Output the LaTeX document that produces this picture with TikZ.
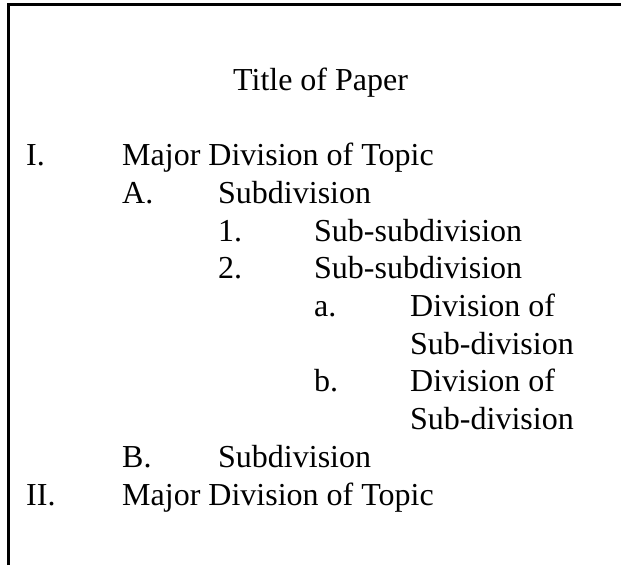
\documentclass[tikz,border=0pt]{standalone}
\usepackage{fontspec}
\setmainfont{Liberation Serif}
\usetikzlibrary{positioning}
\begin{document}
\begin{tikzpicture}
[x=1pt,y=-1pt,
 entry/.style={anchor=base west,inner sep=0pt,font=\fontsize{32}{32}\selectfont},
 frame/.style={line width=3pt}]
\useasboundingbox (0,0) rectangle (621,565);
% page edge
\coordinate (bl) at (8.5,565);
\coordinate (tl) at (8.5,4.5);
\coordinate (tr) at (621,4.5);
\draw[frame] (bl) -- (tl) -- (tr);
\node[entry] (title) at (233,90) {Title of Paper};
% level one
\node[entry] (numI) at (26,165) {I.};
\node[entry] (topicI) at (122,165) {Major Division of Topic};
% level two
\node[entry] (numA) at (122,203) {A.};
\node[entry] (subA) at (218,203) {Subdivision};
% level three
\node[entry] (num1) at (218,241) {1.};
\node[entry] (sub1) at (314,241) {Sub-subdivision};
\node[entry] (num2) at (218,278) {2.};
\node[entry] (sub2) at (314,278) {Sub-subdivision};
% level four
\node[entry] (numa) at (314,316) {a.};
\node[entry] (diva) at (410,316) {Division of};
\node[entry] (diva2) at (410,354) {Sub-division};
\node[entry] (numb) at (314,391) {b.};
\node[entry] (divb) at (410,391) {Division of};
\node[entry] (divb2) at (410,429) {Sub-division};
%% back up
\node[entry] (numB) at (122,467) {B.};
\node[entry] (subB) at (218,467) {Subdivision};
\node[entry] (numII) at (26,505) {II.};
\node[entry] (topicII) at (122,505) {Major Division of Topic};
\end{tikzpicture}
\end{document}
